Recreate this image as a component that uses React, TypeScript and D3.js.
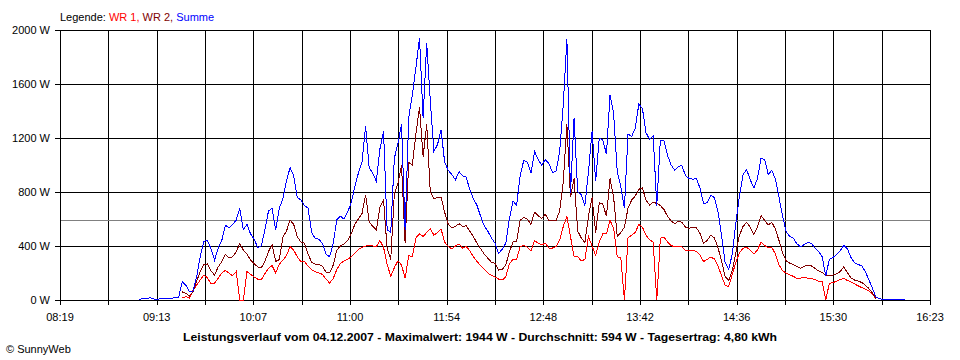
import React, { useEffect, useRef } from "react"
import * as d3 from "d3"

// SunnyWeb day chart, 04.12.2007, samples every 2 minutes from 09:03
const startTime = "09:03"
const sampleMinutes = 2
const domainStart = "08:19"
const domainEnd = "16:23"
const xTickLabels = ["08:19", "09:13", "10:07", "11:00", "11:54", "12:48", "13:42", "14:36", "15:30", "16:23"]
const yTicks = [0, 400, 800, 1200, 1600, 2000]
const average = 594

const legend = [
  { text: "Legende: ", color: "#000000" },
  { text: "WR 1, ", color: "#ff0000" },
  { text: "WR 2, ", color: "#800000" },
  { text: "Summe", color: "#0000ff" },
]

const title = "Leistungsverlauf vom 04.12.2007 - Maximalwert: 1944 W - Durchschnitt: 594 W - Tagesertrag: 4,80 kWh"

const _ = null

const wr1: (number | null)[] = [
  _, _, _, _, _, _, _, _, _, _,
  _, _, 15, 25, 15, 70, 110, 148, 185, 165,
  120, 125, 160, 200, 220, 200, 180, 210, 0, 0,
  210, 190, 170, 155, 150, 195, 235, 255, 200, 265,
  295, 330, 395, 370, 320, 284, 285, 250, 225, 210,
  200, 190, 155, 125, 160, 225, 270, 290, 300, 320,
  345, 375, 390, 400, 405, 400, 395, 440, 390, 265,
  175, 240, 290, 260, 160, 330, 320, 460, 490, 470,
  500, 530, 480, 500, 525, 430, 395, 380, 400, 415,
  385, 395, 365, 320, 285, 255, 230, 200, 182, 170,
  155, 148, 170, 270, 300, 300, 395, 405, 390, 365,
  440, 420, 410, 420, 385, 385, 395, 445, 545, 620,
  470, 320, 320, 290, 300, 470, 400, 330, 430, 490,
  490, 590, 530, 320, 310, 0, 460, 480, 500, 560,
  540, 480, 445, 430, 0, 457, 465, 430, 403, 395,
  400, 395, 368, 365, 365, 362, 335, 285, 300, 318,
  305, 255, 180, 110, 100, 190, 280, 350, 383, 392,
  368, 340, 370, 428, 405, 385, 390, 340, 260, 215,
  200, 186, 175, 160, 162, 166, 162, 160, 150, 140,
  135, 0, 123, 128, 140, 152, 160, 145, 135, 120,
  105, 92, 80, 66, 42, 10, _, _, _, _,
  _, _, _, _,
]

const wr2: (number | null)[] = [
  _, _, _, _, _, _, _, _, _, _,
  _, _, 60, 50, 30, 60, 140, 210, 260, 268,
  215, 185, 245, 285, 340, 310, 320, 355, 420, 370,
  340, 296, 270, 245, 240, 285, 360, 410, 285, 300,
  465, 510, 593, 560, 470, 430, 420, 340, 280, 265,
  265, 250, 205, 200, 259, 370, 400, 415, 440, 490,
  560, 600, 640, 780, 580, 545, 520, 690, 740, 380,
  300, 790, 860, 1000, 420, 1020, 1000, 1230, 1430, 1062,
  1300, 800, 750, 760, 760, 650, 560, 535, 545, 565,
  545, 550, 510, 470, 420, 380, 340, 310, 280, 272,
  222, 225, 260, 355, 430, 430, 590, 612, 600, 560,
  650, 625, 605, 635, 590, 590, 590, 660, 880, 1300,
  760, 900, 510, 460, 425, 620, 760, 500, 720, 710,
  620, 900, 760, 470, 500, 540, 680, 740, 770, 820,
  830, 740, 705, 725, 715, 700, 670, 620, 585, 565,
  585, 575, 540, 530, 540, 535, 495, 420, 440, 480,
  460, 390, 290, 175, 145, 220, 350, 480, 545, 575,
  540, 485, 540, 625, 590, 555, 575, 525, 440, 350,
  290, 272, 262, 247, 235, 250, 259, 252, 235, 215,
  205, 180, 178, 185, 195, 210, 245, 205, 165, 148,
  140, 130, 110, 85, 50, 10, _, _, _, _,
  _, _, _, _,
]

const summe: (number | null)[] = [
  5, 10, 10, 17, 8, 5, 10, 15, 10, 12,
  18, 20, 135, 110, 60, 65, 170, 320, 435, 440,
  380, 295, 385, 440, 555, 535, 560, 590, 680, 520,
  560, 490, 450, 390, 400, 520, 660, 680, 520, 680,
  750, 885, 980, 920, 760, 740, 700, 680, 500, 455,
  450, 420, 340, 320, 420, 595, 620, 600, 650, 720,
  840, 940, 1020, 1290, 980, 940, 880, 1120, 1250, 520,
  500, 1050, 1160, 1300, 520, 1350, 1520, 1720, 1944, 1350,
  1900, 1480, 1100, 1150, 1260, 1020, 960, 930, 890, 950,
  920, 910, 815, 750, 700, 620, 550, 510, 460, 420,
  346, 375, 420, 600, 735, 700, 920, 1035, 1020, 940,
  1100, 1040, 1000, 1040, 1010, 945, 955, 1100, 1450, 1930,
  790, 1350, 800, 780, 700, 950, 1250, 880, 1200, 1185,
  1080, 1520, 1380, 950, 840, 680, 1230, 1210, 1272, 1450,
  1420, 1240, 1190, 1215, 700, 1185, 1180, 1070, 1000, 960,
  990, 995, 920, 900, 895, 900, 830, 715, 720, 775,
  760, 660, 480, 280, 225, 340, 570, 770, 930, 965,
  890, 830, 900, 1050, 1040, 930, 960, 895, 760, 620,
  505, 470, 457, 415, 395, 410, 425, 420, 385, 360,
  320, 180, 300, 315, 335, 365, 405, 380, 315, 275,
  262, 255, 210, 150, 85, 20, 8, 6, 6, 5,
  6, 5, 5, 4,
]

const series = [
  { values: wr1, color: "#ff0000" },
  { values: wr2, color: "#800000" },
  { values: summe, color: "#0000ff" },
]

const FONT = "'Liberation Sans', Arial, sans-serif"

export default function App() {
  const ref = useRef<SVGSVGElement>(null)

  useEffect(() => {
    const svg = d3.select(ref.current!)
    svg.selectAll("*").remove()

    const margin = { top: 30, right: 30, bottom: 60, left: 60 }
    const width = 960
    const height = 360

    const parse = d3.timeParse("%H:%M")
    const t0 = parse(startTime)!
    const times = summe.map((_, i) => d3.timeMinute.offset(t0, i * sampleMinutes))

    const x = d3
      .scaleTime()
      .domain([parse(domainStart)!, parse(domainEnd)!])
      .range([margin.left, width - margin.right])
    const y = d3
      .scaleLinear()
      .domain([0, 2000])
      .range([height - margin.bottom, margin.top])

    const [d0, d1] = x.domain()
    const gridTimes = d3.range(19).map((k) => new Date(+d0 + (k * (+d1 - +d0)) / 18))
    const px = (v: number) => Math.round(v) + 0.5

    const grid = svg.append("g").attr("shape-rendering", "crispEdges")

    // vertical grid
    grid
      .selectAll(".vgrid")
      .data(gridTimes)
      .enter()
      .append("line")
      .attr("x1", (d) => px(x(d)))
      .attr("x2", (d) => px(x(d)))
      .attr("y1", y(2000))
      .attr("y2", y(0) + 5)
      .attr("stroke", "#000")

    // horizontal grid
    grid
      .selectAll(".hgrid")
      .data(yTicks)
      .enter()
      .append("line")
      .attr("x1", margin.left - 5)
      .attr("x2", width - margin.right + 1)
      .attr("y1", (d) => px(y(d)))
      .attr("y2", (d) => px(y(d)))
      .attr("stroke", "#000")

    // average line
    grid
      .append("line")
      .attr("x1", margin.left + 1)
      .attr("x2", width - margin.right)
      .attr("y1", px(y(average)))
      .attr("y2", px(y(average)))
      .attr("stroke", "#808080")

    // y labels
    svg
      .append("g")
      .selectAll("text")
      .data(yTicks)
      .enter()
      .append("text")
      .attr("x", margin.left - 10)
      .attr("y", (d) => y(d))
      .attr("dy", "0.35em")
      .attr("text-anchor", "end")
      .attr("font-family", FONT)
      .attr("font-size", 11)
      .text((d) => d + " W")

    // x labels
    svg
      .append("g")
      .selectAll("text")
      .data(xTickLabels)
      .enter()
      .append("text")
      .attr("x", (_, i) => x(gridTimes[i * 2]))
      .attr("y", 320.5)
      .attr("text-anchor", "middle")
      .attr("font-family", FONT)
      .attr("font-size", 11)
      .text((d) => d)

    // data lines
    series.forEach((s) => {
      const line = d3
        .line<number | null>()
        .defined((d) => d != null)
        .x((_, i) => x(times[i]))
        .y((d) => y(d as number))
      svg
        .append("path")
        .datum(s.values)
        .attr("d", line)
        .attr("fill", "none")
        .attr("stroke", s.color)
        .attr("stroke-width", 1)
        .attr("shape-rendering", "crispEdges")
    })

    // legend
    const lg = svg
      .append("text")
      .attr("x", 60)
      .attr("y", 20.5)
      .attr("font-family", FONT)
      .attr("font-size", 11)
    legend.forEach((l) => {
      lg.append("tspan").attr("fill", l.color).text(l.text)
    })

    // title
    svg
      .append("text")
      .attr("x", 480)
      .attr("y", 341)
      .attr("text-anchor", "middle")
      .attr("font-family", FONT)
      .attr("font-size", 11)
      .attr("font-weight", "bold")
      .attr("textLength", 594)
      .attr("lengthAdjust", "spacingAndGlyphs")
      .text(title)

    svg
      .append("text")
      .attr("x", 6)
      .attr("y", 353)
      .attr("font-family", FONT)
      .attr("font-size", 11)
      .text("\u00a9 SunnyWeb")
  }, [])

  return (
    <svg
      ref={ref}
      width={960}
      height={360}
      style={{ position: "absolute", left: 0, top: 0, background: "#fff" }}
    />
  )
}
